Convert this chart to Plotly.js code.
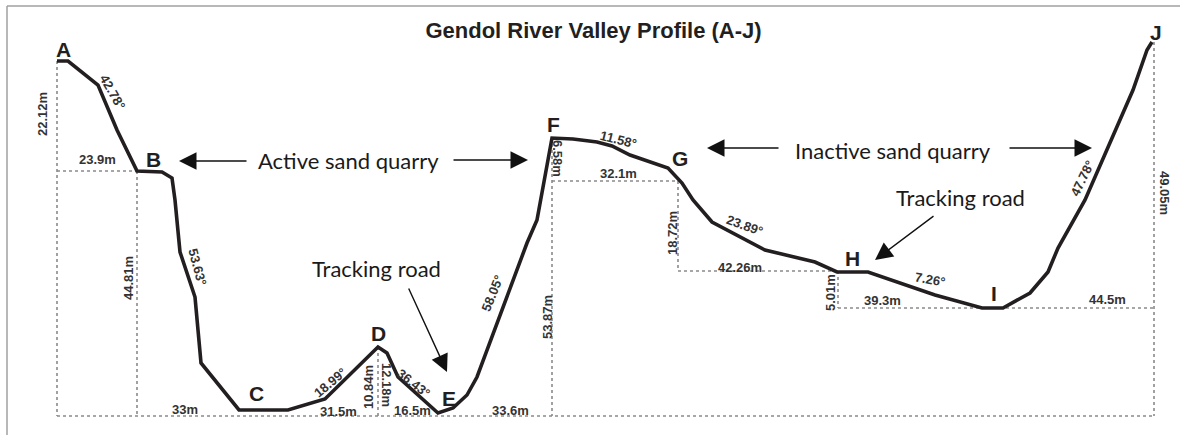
<!DOCTYPE html>
<html>
<head>
<meta charset="utf-8">
<script src="https://cdn.plot.ly/plotly-3.0.1.min.js"></script>
<style>html,body{margin:0;padding:0;background:#fff;}#chart{width:1180px;height:435px;}</style>
</head>
<body>
<div id="chart"></div>
<script>
// Profile line (drawing units: x to the right, y downward)
const profileX = [57,68,98,117,137,162,172,175,180,195,201,239,288,325,378,387,398,438,453,467,477,527,537,552,573,597,612,630,668,682,693,712,765,815,837,868,935,982,1003,1030,1048,1058,1085,1133,1147,1152];
const profileY = [61,61,85,130,171,172,178,200,252,297,363,410,410,399,347,353,377,413,408,395,377,243,220,138,139,142,146,155,168,183,200,222,250,262,272,272,295,308,308,293,272,248,200,90,50,42];

// Dotted construction lines (segments separated by null)
const guideX = [57,57,null,57,137,null,137,137,null,57,1154,null,378,378,null,552,552,null,552,678,null,678,678,null,678,838,null,838,838,null,838,1154,null,1154,1154];
const guideY = [61,416,null,171,171,null,171,416,null,416,416,null,347,416,null,138,416,null,181,181,null,181,271,null,271,271,null,271,308,null,308,308,null,42,416];

// Point names
const pointNames = ["A","B","C","D","E","F","G","H","I","J"];
const pointLabelX = [63,153,256,378,449,553,680,852,994,1156];
const pointLabelY = [49,159,393,333,398,124,158,258,293,32];

// Measurements
const measureText  = ["22.12m","23.9m","42.78°","44.81m","53.63°","33m","18.99°","31.5m","10.84m","12.18m","36.43°","16.5m","33.6m","58.05°","53.87m","6.58m","11.58°","32.1m","18.72m","23.89°","42.26m","5.01m","39.3m","7.26°","44.5m","47.78°","49.05m"];
const measureX     = [42,97,113,128,198,185,330,338,368,387,414,412,510,492,547,558,618,618,672,745,740,830,882,930,1107,1082,1165];
const measureY     = [114,159,92,278,267,409,382,411,387,385,383,410,410,293,317,158,139,173,233,225,267,293,300,279,299,178,193];
const measureAngle = [-90,0,60,-90,75,0,-40,0,-90,90,38,0,0,-68,-90,90,14,0,-90,20,0,-90,0,10,0,-64,90];

// Callout texts and their arrows
const calloutText = ["Active sand quarry","Inactive sand quarry","Tracking road","Tracking road"];
const calloutX = [348,893,376,960];
const calloutY = [160,150,268,197];
const arrowTipX  = [179,528,707,1092,447,875];
const arrowTipY  = [161,160,148,148,372,260];
const arrowTailX = [248,452,780,1008,408,935];
const arrowTailY = [161,160,148,148,287,215];

const traces = [
  {x: guideX, y: guideY, mode: "lines", line: {color: "#8a8a8a", width: 1.6, dash: "dot"}, hoverinfo: "skip", connectgaps: false},
  {x: profileX, y: profileY, mode: "lines", line: {color: "#231f20", width: 3.6}, hoverinfo: "skip"}
];

const annotations = [];
pointNames.forEach((t, i) => annotations.push({
  x: pointLabelX[i], y: pointLabelY[i], xref: "x", yref: "y", text: t, showarrow: false,
  font: {family: "Liberation Sans, Arial, sans-serif", size: 21, color: "#231f20", weight: 600}
}));
measureText.forEach((t, i) => annotations.push({
  x: measureX[i], y: measureY[i], xref: "x", yref: "y", text: "<b>" + t + "</b>", showarrow: false,
  textangle: measureAngle[i],
  font: {family: "Liberation Sans Narrow, Liberation Sans, Arial, sans-serif", size: 13, color: "#333"}
}));
calloutText.forEach((t, i) => annotations.push({
  x: calloutX[i], y: calloutY[i], xref: "x", yref: "y", text: t, showarrow: false,
  font: {family: "Lato, Open Sans, sans-serif", size: 22, color: "#1a1a1a"}
}));
arrowTipX.forEach((v, i) => annotations.push({
  x: v, y: arrowTipY[i], xref: "x", yref: "y", ax: arrowTailX[i], ay: arrowTailY[i], axref: "x", ayref: "y",
  text: "", showarrow: true, arrowhead: 2, arrowsize: 2.5, arrowwidth: 1.4, arrowcolor: "#111"
}));

const layout = {
  width: 1180, height: 435,
  margin: {l: 0, r: 0, t: 0, b: 0},
  paper_bgcolor: "#ffffff", plot_bgcolor: "#ffffff",
  showlegend: false,
  title: {text: "<b>Gendol River Valley Profile (A-J)</b>", x: 0.503, xanchor: "center", y: 0.93, yanchor: "middle",
          font: {family: "Liberation Sans, Arial, sans-serif", size: 22, color: "#231f20"}},
  xaxis: {range: [0, 1180], visible: false, fixedrange: true},
  yaxis: {range: [435, 0], visible: false, fixedrange: true},
  shapes: [
    {type: "line", xref: "paper", yref: "paper", x0: 7/1180, x1: 1, y0: 1 - 6/435, y1: 1 - 6/435, line: {color: "#a0a0a0", width: 1.5}},
    {type: "line", xref: "paper", yref: "paper", x0: 7/1180, x1: 7/1180, y0: 0, y1: 1 - 6/435, line: {color: "#a0a0a0", width: 1.5}}
  ],
  annotations: annotations
};

Plotly.newPlot("chart", traces, layout, {displayModeBar: false, staticPlot: true});
</script>
</body>
</html>
